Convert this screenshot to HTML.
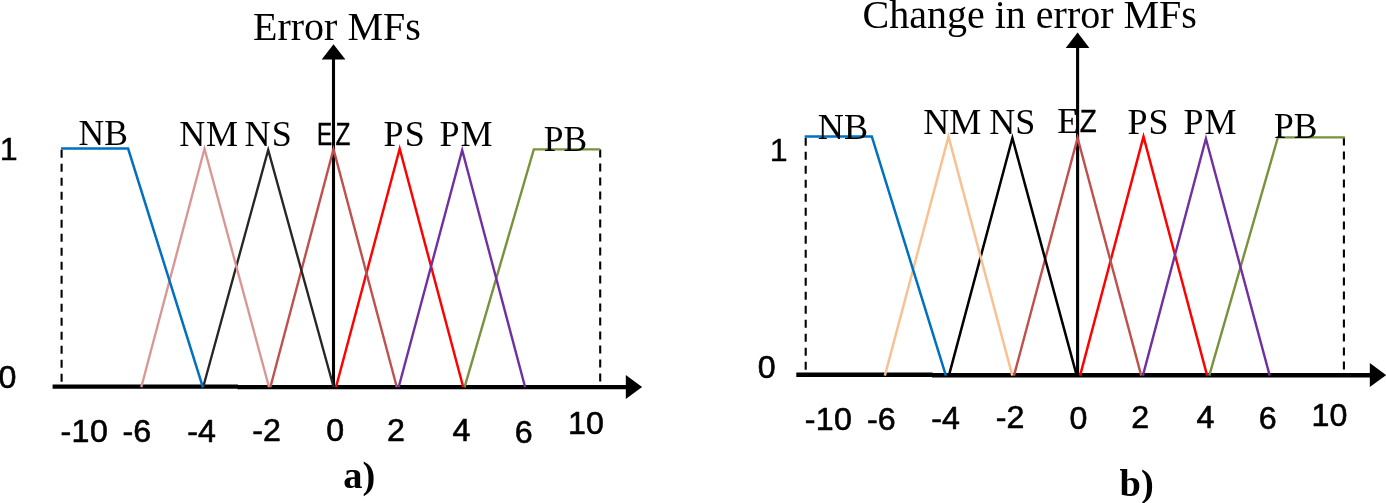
<!DOCTYPE html>
<html lang="en">
<head>
<meta charset="utf-8">
<title>Error and change in error membership functions</title>
<style>
html,body{margin:0;padding:0;background:#fff;}
body{width:1386px;height:503px;overflow:hidden;}
svg{display:block;}
.serif{font-family:"Liberation Serif","DejaVu Serif",serif;fill:#000;}
.sans{font-family:"Liberation Sans","DejaVu Sans",sans-serif;fill:#000;stroke:#000;stroke-width:0.6;stroke-linejoin:round;}
.mf{fill:none;stroke-width:2.2;stroke-linejoin:miter;stroke-linecap:butt;}
.dash{fill:none;stroke:#000;stroke-width:2.1;stroke-dasharray:8 6;}
</style>
</head>
<body>
<svg width="1386" height="503" viewBox="0 0 1386 503">
<rect x="0" y="0" width="1386" height="503" fill="#ffffff"/>

<!-- ================= LEFT CHART (a) ================= -->
<g id="chart-a">
  <!-- axes -->
  <line x1="52.6" y1="386.6" x2="238" y2="386.6" stroke="#000" stroke-width="4.3"/>
  <line x1="237.5" y1="387.2" x2="627" y2="387.2" stroke="#000" stroke-width="4.3"/>
  <polygon points="625.8,375.1 642.1,387 625.8,398.9" fill="#000"/>
  <line x1="333.5" y1="58" x2="333.5" y2="386" stroke="#000" stroke-width="3.1"/>
  <polygon points="321.7,59.6 333.5,44.3 345.4,59.6" fill="#000"/>
  <!-- dashed bounds -->
  <line class="dash" x1="61.6" y1="149.8" x2="61.6" y2="383"/>
  <line class="dash" x1="600.2" y1="149.4" x2="600.2" y2="383"/>
  <!-- membership functions -->
  <polyline class="mf" stroke="#77933C" style="stroke-width:2.4" points="464.52,387.3 533.8,149.4 600.2,149.4"/>
  <polyline class="mf" stroke="#FF0000" style="stroke-width:2.45" points="335.95,387.3 399.7,148.7 463.25,387.3"/>
  <polyline class="mf" stroke="#7030A0" style="stroke-width:2.4" points="398.65,387.3 462.2,150.2 525.14,387.3"/>
  <polyline class="mf" stroke="#C0504D" style="stroke-width:2.4" points="270.35,387.3 333.5,149.2 396.84,387.3"/>
  <polyline class="mf" stroke="#262626" style="stroke-width:2.35" points="203.14,387.3 268.2,149.9 333.66,387.3"/>
  <polyline class="mf" stroke="#D99694" style="stroke-width:2.35" points="141.26,387.3 204.5,148.8 269.05,387.3"/>
  <polyline class="mf" stroke="#0070C0" style="stroke-width:2.5" points="61,148.6 128.1,148.6 202.91,387.3"/>
  <!-- title -->
  <text class="serif" x="253" y="40.1" font-size="40">Error MFs</text>
  <!-- MF labels -->
  <text class="serif" x="78.6" y="145.1" font-size="35.5">NB</text>
  <text class="serif" x="179.3" y="145.5" font-size="36" letter-spacing="0.6">NM</text>
  <text class="serif" x="244.6" y="145.5" font-size="36" letter-spacing="1.2">NS</text>
  <text class="sans" y="144.6" font-size="30.5" style="stroke-width:0.4"><tspan x="317.1" textLength="15.2" lengthAdjust="spacingAndGlyphs">E</tspan><tspan x="335.4" textLength="14.9" lengthAdjust="spacingAndGlyphs">Z</tspan></text>
  <text class="serif" x="383.6" y="145.5" font-size="36" letter-spacing="1.2">PS</text>
  <text class="serif" x="439.4" y="145.5" font-size="36" letter-spacing="1.2">PM</text>
  <text class="serif" x="543.8" y="150.9" font-size="35.5">PB</text>
  <!-- y labels -->
  <text class="sans" x="-0.3" y="160" font-size="32.2" style="stroke-width:0.45">1</text>
  <text class="sans" x="-1.6" y="388" font-size="32.2">0</text>
  <!-- x labels -->
  <text class="sans" x="60.5" y="442.3" font-size="32.2" letter-spacing="0.4">-10</text>
  <text class="sans" x="122.5" y="442.3" font-size="32.2">-6</text>
  <text class="sans" x="187.2" y="441.5" font-size="32.2">-4</text>
  <text class="sans" x="252.3" y="441" font-size="32.2">-2</text>
  <text class="sans" x="326.3" y="441.3" font-size="32.2">0</text>
  <text class="sans" x="387" y="441" font-size="32.2">2</text>
  <text class="sans" x="452.5" y="441" font-size="32.2">4</text>
  <text class="sans" x="514.8" y="442.5" font-size="32.2">6</text>
  <text class="sans" x="568" y="433.8" font-size="32.2">10</text>
  <!-- caption -->
  <text class="serif" x="343.2" y="488.2" font-size="38.5" font-weight="bold">a)</text>
</g>

<!-- ================= RIGHT CHART (b) ================= -->
<g id="chart-b">
  <line x1="796.3" y1="374.7" x2="932.5" y2="374.7" stroke="#000" stroke-width="4.4"/>
  <line x1="932" y1="375.3" x2="1371.5" y2="375.3" stroke="#000" stroke-width="4.4"/>
  <polygon points="1369.8,363.1 1386.2,375.1 1369.8,387.1" fill="#000"/>
  <line x1="1077.6" y1="47" x2="1077.6" y2="374.5" stroke="#000" stroke-width="3.1"/>
  <polygon points="1065.7,48 1077.6,32.5 1089.4,48" fill="#000"/>
  <line class="dash" x1="805.7" y1="137.8" x2="805.7" y2="371"/>
  <line class="dash" x1="1343.9" y1="137.6" x2="1343.9" y2="371"/>
  <polyline class="mf" stroke="#77933C" style="stroke-width:2.4" points="1209.24,375.6 1277.9,137.4 1344.9,137.4"/>
  <polyline class="mf" stroke="#FF0000" style="stroke-width:2.45" points="1080.08,375.6 1143.5,136.6 1207.13,375.6"/>
  <polyline class="mf" stroke="#7030A0" style="stroke-width:2.4" points="1142.87,375.6 1205.9,138.6 1269.73,375.6"/>
  <polyline class="mf" stroke="#C0504D" style="stroke-width:2.4" points="1013.97,375.6 1077.6,137.9 1141.23,375.6"/>
  <polyline class="mf" stroke="#000000" style="stroke-width:2.5" points="948.9,375.6 1012.4,138.0 1076.73,375.6"/>
  <polyline class="mf" stroke="#FAC090" style="stroke-width:2.45" points="884.87,375.6 948.5,136.6 1012.33,375.6"/>
  <polyline class="mf" stroke="#0070C0" style="stroke-width:2.5" points="804.7,136.5 871.8,136.5 945.9,375.6"/>
  <text class="serif" x="862.5" y="27.5" font-size="40">Change in error MFs</text>
  <text class="serif" x="817.8" y="138.5" font-size="35.5" textLength="50.3" lengthAdjust="spacingAndGlyphs">NB</text>
  <text class="serif" x="923.2" y="133.8" font-size="36">NM</text>
  <text class="serif" x="989.3" y="133.8" font-size="36">NS</text>
  <text class="serif" x="1057.2" y="132.9" font-size="36">E</text>
  <text class="sans" x="1079.8" y="132.2" font-size="30.7" textLength="17" lengthAdjust="spacingAndGlyphs" style="stroke-width:0.4">Z</text>
  <text class="serif" x="1127.6" y="133.8" font-size="36" letter-spacing="0.8">PS</text>
  <text class="serif" x="1183.6" y="133.8" font-size="36" letter-spacing="0.8">PM</text>
  <text class="serif" x="1274" y="138.1" font-size="35.5">PB</text>
  <text class="sans" x="769.8" y="161.4" font-size="32.2" style="stroke-width:0.3">1</text>
  <text class="sans" x="757.8" y="378.2" font-size="32.2">0</text>
  <text class="sans" x="804.7" y="429.6" font-size="32.2" letter-spacing="0.4">-10</text>
  <text class="sans" x="867" y="429.6" font-size="32.2">-6</text>
  <text class="sans" x="931.2" y="428.8" font-size="32.2">-4</text>
  <text class="sans" x="995.8" y="428.4" font-size="32.2">-2</text>
  <text class="sans" x="1069.6" y="428.7" font-size="32.2">0</text>
  <text class="sans" x="1131.3" y="428.3" font-size="32.2">2</text>
  <text class="sans" x="1196.5" y="428.2" font-size="32.2">4</text>
  <text class="sans" x="1258.7" y="429.4" font-size="32.2">6</text>
  <text class="sans" x="1311.6" y="425.7" font-size="32.2">10</text>
  <text class="serif" x="1119.5" y="495.9" font-size="38.5" font-weight="bold">b)</text>
</g>
</svg>
</body>
</html>
